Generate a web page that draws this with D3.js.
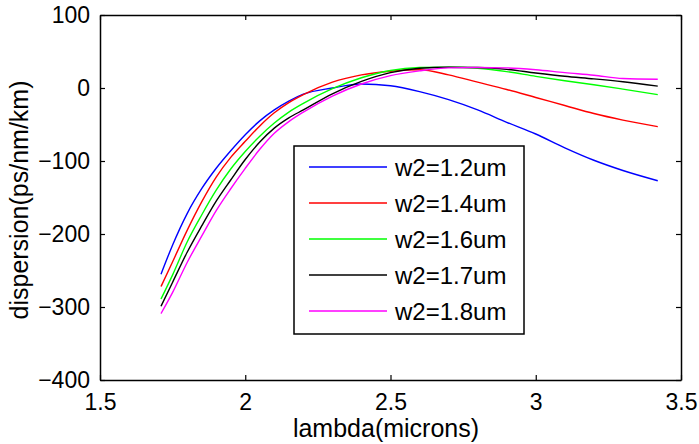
<!DOCTYPE html>
<meta charset="utf-8">
<title>dispersion vs lambda</title>
<style>
body {
  margin: 0;
  background: #fff;
}
text {
  font-family: "Liberation Sans", Arial, sans-serif;
  fill: #000;
}
.curve {
  fill: none;
  stroke-width: 1.4px;
}
</style>
<svg></svg>
<script src="https://cdnjs.cloudflare.com/ajax/libs/d3/7.8.5/d3.min.js"></script>
<script>
// wavelength samples (microns)
var lambda = [1.71, 1.75, 1.8, 1.85, 1.9, 1.95, 2.0, 2.05, 2.1, 2.15, 2.2, 2.3, 2.4, 2.5, 2.6, 2.7, 2.8, 2.9, 3.0, 3.1, 3.2, 3.3, 3.42];

// dispersion (ps/nm/km) for each w2
var d12 = [-255, -215, -172, -138, -110, -86, -64, -45, -30, -18, -8.5, 0, 5.5, 3, -5, -16, -30, -47, -63, -82, -99, -113, -127];
var d14 = [-272, -238, -195, -156, -122, -95, -73, -52, -34, -20, -9, 8, 18, 23, 25, 18, 8, -2, -13, -24, -35, -44, -53];
var d16 = [-289, -256, -211, -174, -140, -111, -87, -66, -48, -33, -21, -1, 14, 24, 28, 28.5, 27, 22.5, 16, 10, 4.5, -1.5, -9];
var d17 = [-299, -266, -225, -189, -155, -126, -98, -74, -55, -41, -30, -8, 9, 21, 27, 28.5, 28, 25.5, 20.5, 16, 12.5, 8.5, 2.5];
var d18 = [-309, -280, -239, -203, -168, -138, -110, -84, -62, -46, -33, -11, 5.5, 17, 23.5, 27.5, 28, 27.5, 25, 21, 17.5, 13, 12];

var labels = ["w2=1.2um", "w2=1.4um", "w2=1.6um", "w2=1.7um", "w2=1.8um"];
var colors = ["#0000ff", "#ff0000", "#00ff00", "#000000", "#ff00ff"];

var xTicks = [1.5, 2, 2.5, 3, 3.5];
var yTicks = [-400, -300, -200, -100, 0, 100];

var series = [d12, d14, d16, d17, d18];

var width = 699, height = 444;
var margin = {top: 15, right: 18, bottom: 64, left: 100};
var w = width - margin.left - margin.right,
    h = height - margin.top - margin.bottom;

var svg = d3.select("svg")
    .attr("width", width)
    .attr("height", height);

var x = d3.scaleLinear().domain([1.5, 3.5]).range([0, w]);
var y = d3.scaleLinear().domain([-400, 100]).range([h, 0]);

var g = svg.append("g")
    .attr("transform", "translate(" + margin.left + "," + margin.top + ")");

// curves
var line = d3.line()
    .curve(d3.curveMonotoneX)
    .x(function(d, i) { return x(lambda[i]); })
    .y(function(d) { return y(d); });

g.selectAll(".curve")
    .data(series)
  .enter().append("path")
    .attr("class", "curve")
    .attr("stroke", function(d, i) { return colors[i]; })
    .attr("d", line);

// axes (ticks point inwards, box all round)
g.append("g")
    .attr("transform", "translate(0," + h + ")")
    .call(d3.axisBottom(x).tickValues(xTicks).tickFormat(d3.format("")).tickSizeInner(-5).tickSizeOuter(0).tickPadding(14));
g.append("g")
    .call(d3.axisLeft(y).tickValues(yTicks).tickFormat(d3.format("")).tickSizeInner(-5).tickSizeOuter(0).tickPadding(10));
g.append("g")
    .call(d3.axisTop(x).tickValues(xTicks).tickFormat("").tickSizeInner(-5).tickSizeOuter(0));
g.append("g")
    .attr("transform", "translate(" + w + ",0)")
    .call(d3.axisRight(y).tickValues(yTicks).tickFormat("").tickSizeInner(-5).tickSizeOuter(0));

g.selectAll(".domain").attr("stroke", "#000").attr("stroke-width", 1.5);
g.selectAll(".tick line").attr("stroke", "#000").attr("stroke-width", 1.2);
g.selectAll(".tick text")
    .style("font-family", "'Liberation Sans', Arial, sans-serif")
    .style("font-size", "23px")
    .attr("fill", "#000");

// axis titles
svg.append("text")
    .attr("x", 386)
    .attr("y", 437)
    .attr("text-anchor", "middle")
    .style("font-size", "25px")
    .text("lambda(microns)");

svg.append("text")
    .attr("transform", "translate(28,200) rotate(-90)")
    .attr("text-anchor", "middle")
    .style("font-size", "25px")
    .text("dispersion(ps/nm/km)");

// legend
var legend = svg.append("g").attr("transform", "translate(294,146)");
legend.append("rect")
    .attr("width", 230)
    .attr("height", 188)
    .attr("fill", "#fff")
    .attr("stroke", "#000")
    .attr("stroke-width", 1.5);

var item = legend.selectAll(".item")
    .data(labels)
  .enter().append("g")
    .attr("class", "item")
    .attr("transform", function(d, i) { return "translate(0," + (21 + i * 36) + ")"; });

item.append("line")
    .attr("x1", 15)
    .attr("x2", 93)
    .attr("stroke", function(d, i) { return colors[i]; })
    .attr("stroke-width", 1.4);

item.append("text")
    .attr("x", 101)
    .attr("dy", "0.36em")
    .style("font-size", "24px")
    .text(function(d) { return d; });
</script>
